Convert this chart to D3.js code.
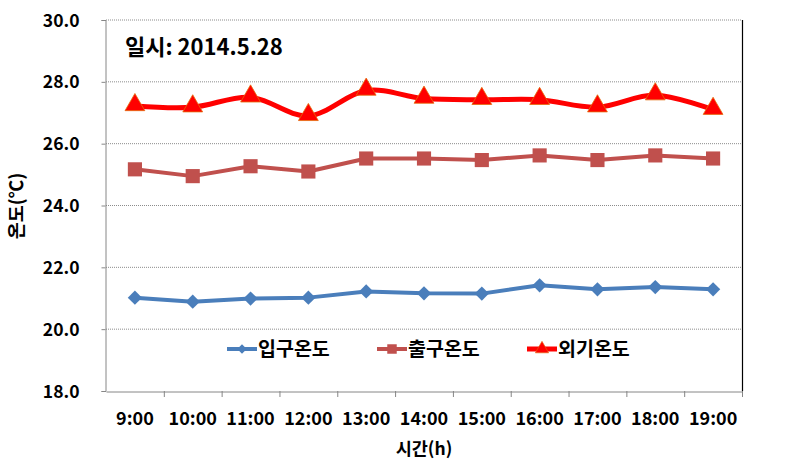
<!DOCTYPE html>
<html>
<head>
<meta charset="utf-8">
<script src="https://cdn.jsdelivr.net/npm/d3@7"></script>
<style>
  body { margin: 0; background: #fff; }
  text { font-family: "Noto Sans CJK KR", "Noto Sans", sans-serif; font-weight: bold; fill: #000; }
</style>
</head>
<body>
<div id="chart"></div>
<script>
const width = 811;
const height = 465;
const margin = { top: 20, right: 69, bottom: 74, left: 106 };

// data
const hours = ["9:00", "10:00", "11:00", "12:00", "13:00", "14:00", "15:00", "16:00", "17:00", "18:00", "19:00"];
const inletTemp = [21.02, 20.89, 20.99, 21.02, 21.22, 21.16, 21.15, 21.42, 21.29, 21.36, 21.29];
const outletTemp = [25.17, 24.95, 25.27, 25.1, 25.52, 25.52, 25.47, 25.62, 25.47, 25.62, 25.52];
const outsideTemp = [27.22, 27.18, 27.5, 26.9, 27.72, 27.46, 27.42, 27.42, 27.18, 27.57, 27.1];
const yTicks = [18, 20, 22, 24, 26, 28, 30];

const series = [
  { name: "입구온도", values: inletTemp, color: "#4a7ebb", width: 4, marker: "diamond", curve: d3.curveLinear },
  { name: "출구온도", values: outletTemp, color: "#c0504d", width: 4, marker: "square", curve: d3.curveLinear },
  { name: "외기온도", values: outsideTemp, color: "#ff0000", width: 5, marker: "triangle", curve: d3.curveCardinal.tension(0) }
];

const svg = d3.select("#chart")
  .append("svg")
  .attr("width", width)
  .attr("height", height);

const x = d3.scaleBand()
  .domain(hours)
  .range([margin.left, width - margin.right])
  .padding(0);

const y = d3.scaleLinear()
  .domain([18, 30])
  .range([height - margin.bottom, margin.top]);

const cx = (d) => x(d) + x.bandwidth() / 2;

// grid lines
svg.append("g")
  .selectAll("line")
  .data(yTicks.filter((t) => t > 18))
  .enter()
  .append("line")
  .attr("x1", margin.left)
  .attr("x2", width - margin.right)
  .attr("y1", (d) => y(d))
  .attr("y2", (d) => y(d))
  .attr("stroke", "#8c8c8c")
  .attr("stroke-width", 1)
  .attr("stroke-dasharray", "1,1");

// right border
svg.append("line")
  .attr("x1", width - margin.right + 0.5)
  .attr("x2", width - margin.right + 0.5)
  .attr("y1", margin.top)
  .attr("y2", height - margin.bottom)
  .attr("stroke", "#000")
  .attr("stroke-width", 1.2);

// y axis
const yAxis = d3.axisLeft(y)
  .tickValues(yTicks)
  .tickFormat(d3.format(".1f"))
  .tickSize(4)
  .tickPadding(22);

const gy = svg.append("g")
  .attr("transform", "translate(" + (margin.left - 0.5) + ",0)")
  .call(yAxis);
gy.select(".domain").attr("stroke", "#868686");
gy.selectAll(".tick line").attr("stroke", "#868686");
gy.selectAll(".tick text").style("font-size", "17.5px").attr("dy", "0.35em");

// x axis: labels centered on categories, ticks between them
const xAxis = d3.axisBottom(x).tickSize(0).tickPadding(21);
const gx = svg.append("g")
  .attr("transform", "translate(0," + (height - margin.bottom + 0.5) + ")")
  .call(xAxis);
gx.select(".domain").attr("stroke", "#868686");
gx.selectAll(".tick text").style("font-size", "18px");

svg.append("g")
  .selectAll("line")
  .data(hours.slice(1).concat(["end"]))
  .enter()
  .append("line")
  .attr("x1", (d, i) => margin.left + x.step() * (i + 1) + 0.5)
  .attr("x2", (d, i) => margin.left + x.step() * (i + 1) + 0.5)
  .attr("y1", height - margin.bottom)
  .attr("y2", height - margin.bottom + 6)
  .attr("stroke", "#868686");

// axis titles
svg.append("text")
  .attr("x", (margin.left + width - margin.right) / 2)
  .attr("y", 455)
  .attr("text-anchor", "middle")
  .style("font-size", "17.5px")
  .text("시간(h)");

svg.append("text")
  .attr("transform", "translate(23,206) rotate(-90)")
  .attr("text-anchor", "middle")
  .style("font-size", "18.5px")
  .text("온도(℃)");

// date label
svg.append("text")
  .attr("x", 125)
  .attr("y", 55)
  .style("font-size", "22px")
  .text("일시: 2014.5.28");

// marker shapes
const markerPath = (type, s) => {
  if (type === "diamond") return d3.symbol(d3.symbolDiamond2, s)();
  if (type === "square") return d3.symbol(d3.symbolSquare, s)();
  return d3.symbol(d3.symbolTriangle, s)();
};
const markerSize = { diamond: 130, square: 200, triangle: 170 };

series.forEach((s) => {
  const line = d3.line()
    .x((d, i) => cx(hours[i]))
    .y((d) => y(d))
    .curve(s.curve);

  svg.append("path")
    .datum(s.values)
    .attr("d", line)
    .attr("fill", "none")
    .attr("stroke", s.color)
    .attr("stroke-width", s.width)
    .attr("stroke-linejoin", "round");

  svg.append("g")
    .selectAll("path")
    .data(s.values)
    .enter()
    .append("path")
    .attr("d", markerPath(s.marker, markerSize[s.marker]))
    .attr("transform", (d, i) => "translate(" + cx(hours[i]) + "," + (y(d) + (s.marker === "triangle" ? -1 : 0)) + ")")
    .attr("fill", s.color)
    .attr("stroke", s.marker === "triangle" ? "#e46c0a" : s.color)
    .attr("stroke-width", s.marker === "triangle" ? 0.8 : 0);
});

// legend
const legendX = [227, 377, 527];
const legendY = 349;
const legend = svg.append("g");
series.forEach((s, i) => {
  const g = legend.append("g").attr("transform", "translate(" + legendX[i] + "," + legendY + ")");
  g.append("line")
    .attr("x1", 0)
    .attr("x2", 30)
    .attr("stroke", s.color)
    .attr("stroke-width", s.width);
  g.append("path")
    .attr("d", markerPath(s.marker, markerSize[s.marker] * 0.45))
    .attr("transform", "translate(15,0)")
    .attr("fill", s.color)
    .attr("stroke", s.marker === "triangle" ? "#e46c0a" : "none")
    .attr("stroke-width", 0.6);
  g.append("text")
    .attr("x", 31)
    .attr("y", 0)
    .attr("dy", "0.35em")
    .style("font-size", "19.5px")
    .text(s.name);
});
</script>
</body>
</html>
